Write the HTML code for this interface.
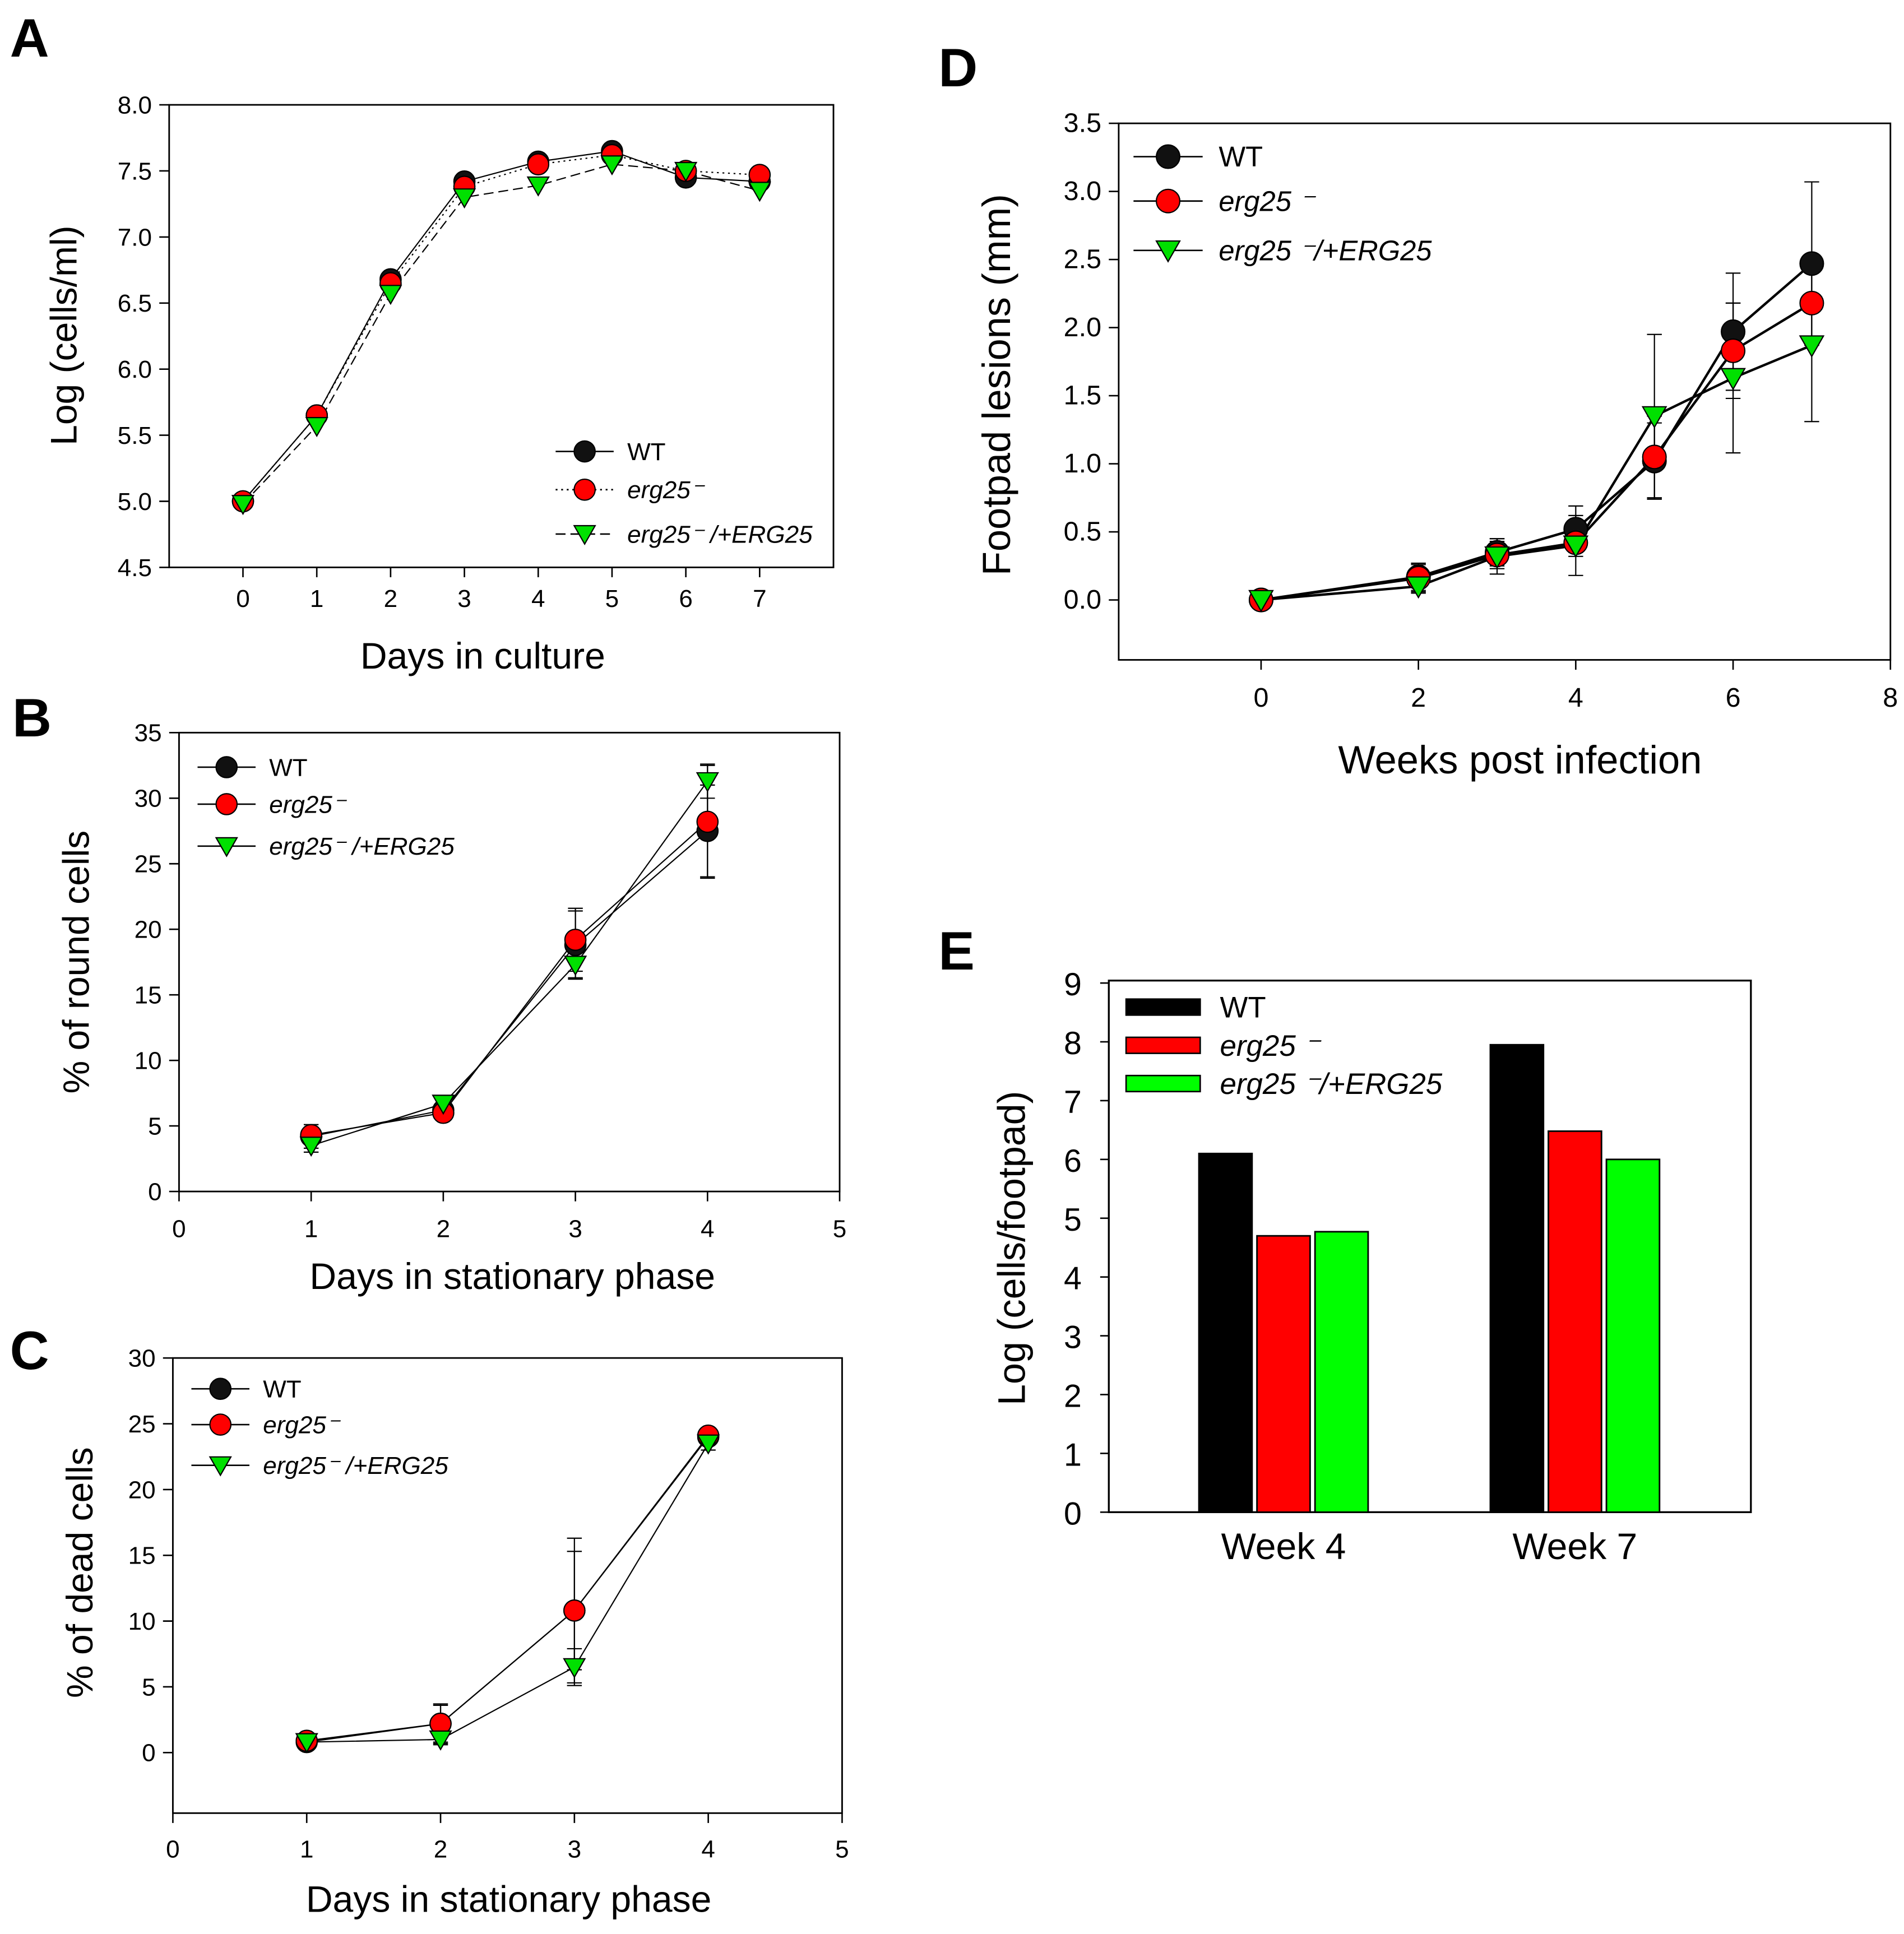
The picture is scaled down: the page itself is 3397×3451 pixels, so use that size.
<!DOCTYPE html>
<html><head><meta charset="utf-8">
<style>
html,body{margin:0;padding:0;background:#fff;}
svg{display:block;}
text{font-family:"Liberation Sans",sans-serif;fill:#000;}
</style></head>
<body>
<svg id="fig" width="3397" height="3451" viewBox="0 0 1542 1568" preserveAspectRatio="none" xmlns="http://www.w3.org/2000/svg">
<text x="8" y="46" font-size="44" font-weight="bold">A</text>
<text x="10" y="597" font-size="44" font-weight="bold">B</text>
<text x="8" y="1110" font-size="44" font-weight="bold">C</text>
<text x="760" y="70" font-size="44" font-weight="bold">D</text>
<text x="760" y="786" font-size="44" font-weight="bold">E</text>
</svg>
<script>
// ---- Panel A data ----
const daysA = [0,1,2,3,4,5,6,7];
const wtA = [5.0,5.65,6.68,7.42,7.57,7.65,7.45,7.42];
const ergA = [5.0,5.65,6.65,7.38,7.55,7.62,7.5,7.47];
const compA = [4.98,5.57,6.57,7.3,7.39,7.55,7.5,7.35];
const yTicksA = ["4.5","5.0","5.5","6.0","6.5","7.0","7.5","8.0"];
const xTicksA = ["0","1","2","3","4","5","6","7"];
// ---- Panel B data ----
const daysB = [1,2,3,4];
const wtB = [4.2,6.2,18.8,27.5];
const ergB = [4.3,6.0,19.2,28.2];
const compB = [3.5,6.7,17.3,31.3];
const errWtB = [0.9,0.5,2.6,3.5];
const errErgB = [0.6,0.4,2.4,4.3];
const errCompB = [0.5,0.4,1.0,1.3];
const yTicksB = ["0","5","10","15","20","25","30","35"];
const xTicksB = ["0","1","2","3","4","5"];
// ---- Panel C data ----
const daysC = [1,2,3,4];
const wtC = [0.8,2.2,10.8,24.0];
const ergC = [0.9,2.2,10.8,24.1];
const compC = [0.8,1.0,6.5,23.5];
const errWtC = [0.3,1.5,4.5,0.5];
const errErgC = [0.3,1.4,5.5,0.5];
const errCompC = [0.3,0.4,1.4,0.5];
const yTicksC = ["0","5","10","15","20","25","30"];
const xTicksC = ["0","1","2","3","4","5"];
// ---- Panel D data ----
const weeksD = [0,2,3,4,5,6,7];
const wtD = [0,0.17,0.35,0.52,1.02,1.97,2.47];
const ergD = [0,0.16,0.33,0.42,1.05,1.83,2.18];
const compD = [0,0.1,0.32,0.4,1.35,1.63,1.87];
const errWtD = [0,0.1,0.1,0.17,0.28,0.43,0.6];
const errErgD = [0,0.1,0.1,0.1,0.3,0.35,0.3];
const errCompD = [0,0.05,0.13,0.22,0.6,0.55,0.56];
const yTicksD = ["0.0","0.5","1.0","1.5","2.0","2.5","3.0","3.5"];
const xTicksD = ["0","2","4","6","8"];
// ---- Panel E data ----
const categoriesE = ["Week 4","Week 7"];
const wtE = [6.1,7.95];
const ergE = [4.7,6.48];
const compE = [4.77,6.0];
const yTicksE = ["0","1","2","3","4","5","6","7","8","9"];

const NS = "http://www.w3.org/2000/svg";
const svg = document.getElementById('fig');
function mk(tag, attrs, name, parent){
  const el = document.createElementNS(NS, tag);
  for (const k in attrs) el.setAttribute(k, attrs[k]);
  
  
  (parent||svg).appendChild(el);
  return el;
}
function txt(x,y,s,size,name,opts){
  opts = opts||{};
  const t = mk('text',{x:x,y:y,'font-size':size,'text-anchor':opts.anchor||'start'},name);
  if (opts.italic) t.setAttribute('font-style','italic');
  if (opts.rot) t.setAttribute('transform','rotate(-90 '+x+' '+y+')');
  t.textContent = s;
  return t;
}
function lin(x0,x1,p0,p1){return v=>p0+(v-x0)*(p1-p0)/(x1-x0);}

function tri(x,y,r,name){
  return mk('polygon',{points:(x-r)+','+(y-r*0.8)+' '+(x+r)+','+(y-r*0.8)+' '+x+','+(y+r*0.95),fill:'#00e000',stroke:'#000','stroke-width':1},name);
}
function circ(x,y,r,fill,name){
  return mk('circle',{cx:x,cy:y,r:r,fill:fill,stroke:'#000','stroke-width':1},name);
}

function linePanel(cfg){
  const X = lin(cfg.xr[0],cfg.xr[1],cfg.box[0],cfg.box[2]);
  const Y = lin(cfg.yr[0],cfg.yr[1],cfg.box[3],cfg.box[1]);
  const p = cfg.id;
  const b = cfg.box;
  mk('rect',{x:b[0],y:b[1],width:b[2]-b[0],height:b[3]-b[1],fill:'none',stroke:'#000','stroke-width':1.3},p+'-plot-frame');
  cfg.yTicks.forEach(t=>{
    const y = Y(parseFloat(t));
    mk('line',{x1:b[0]-8,x2:b[0],y1:y,y2:y,stroke:'#000','stroke-width':1.2},p+'-y-tick');
    txt(b[0]-14,y+7,t,cfg.tickSize,p+'-y-tick-label',{anchor:'end'});
  });
  cfg.xTicks.forEach(t=>{
    const x = X(parseFloat(t));
    mk('line',{x1:x,x2:x,y1:b[3],y2:b[3]+8,stroke:'#000','stroke-width':1.2},p+'-x-tick');
    txt(x,b[3]+cfg.xLabOff,t,cfg.tickSize,p+'-x-tick-label',{anchor:'middle'});
  });
  txt(cfg.yTitle[0],cfg.yTitle[1],cfg.yTitle[2],cfg.titleSize,p+'-y-axis-title',{anchor:'middle',rot:true});
  txt(cfg.xTitle[0],cfg.xTitle[1],cfg.xTitle[2],cfg.titleSize,p+'-x-axis-title',{anchor:'middle'});
  const series = cfg.series;
  series.forEach(s=>{
    if (!s.err) return;
    s.y.forEach((v,i)=>{
      const e = s.err[i]; if (!e) return;
      const x = X(cfg.x[i]);
      mk('line',{x1:x,x2:x,y1:Y(v-e),y2:Y(v+e),stroke:'#000','stroke-width':1},p+'-error-bar-'+s.key);
      mk('line',{x1:x-6,x2:x+6,y1:Y(v-e),y2:Y(v-e),stroke:'#000','stroke-width':1},p+'-error-cap-'+s.key);
      mk('line',{x1:x-6,x2:x+6,y1:Y(v+e),y2:Y(v+e),stroke:'#000','stroke-width':1},p+'-error-cap-'+s.key);
    });
  });
  series.forEach(s=>{
    const pts = s.y.map((v,i)=>X(cfg.x[i])+','+Y(v)).join(' ');
    const l = mk('polyline',{points:pts,fill:'none',stroke:'#000','stroke-width':cfg.lw},p+'-line-'+s.key);
    if (s.dash) l.setAttribute('stroke-dasharray',s.dash);
  });
  series.forEach(s=>{
    s.y.forEach((v,i)=>{
      const x = X(cfg.x[i]), y = Y(v);
      if (s.shape==='tri') tri(x,y,cfg.mr,p+'-marker-'+s.key);
      else circ(x,y,cfg.mr,s.color,p+'-marker-'+s.key);
    });
  });
  const L = cfg.legend;
  series.forEach((s,i)=>{
    const y = L.ys[i];
    const l = mk('line',{x1:L.x0,x2:L.x1,y1:y,y2:y,stroke:'#000','stroke-width':1.2},p+'-legend-line-'+s.key);
    if (s.dash) l.setAttribute('stroke-dasharray',s.dash);
    const mx = (L.x0+L.x1)/2;
    if (s.shape==='tri') tri(mx,y,cfg.mr,p+'-legend-marker-'+s.key);
    else circ(mx,y,cfg.mr,s.color,p+'-legend-marker-'+s.key);
    txt(L.tx,y+L.dy,s.label,L.size,p+'-legend-label-'+s.key,{italic:s.key!=='wt'});
  });
}

linePanel({id:'a',box:[137,85,675,460],xr:[-1,8],yr:[4.5,8.0],x:daysA,
  yTicks:yTicksA,xTicks:xTicksA,tickSize:20,xLabOff:32,titleSize:30,lw:1,mr:8.5,
  yTitle:[62,272,'Log (cells/ml)'],xTitle:[391,542,'Days in culture'],
  series:[
    {key:'wt',y:wtA,color:'#111',label:'WT'},
    {key:'erg25',y:ergA,color:'#f00',label:'erg25⁻',dash:'1.5,3'},
    {key:'comp',y:compA,shape:'tri',label:'erg25⁻ /+ERG25',dash:'8,4'}],
  legend:{x0:450,x1:497,tx:508,ys:[366,397,433],dy:7,size:20}});

linePanel({id:'b',box:[145,594,680,966],xr:[0,5],yr:[0,35],x:daysB,
  yTicks:yTicksB,xTicks:xTicksB,tickSize:20,xLabOff:37,titleSize:30,lw:1,mr:8.5,
  yTitle:[72,780,'% of round cells'],xTitle:[415,1045,'Days in stationary phase'],
  series:[
    {key:'wt',y:wtB,err:errWtB,color:'#111',label:'WT'},
    {key:'erg25',y:ergB,err:errErgB,color:'#f00',label:'erg25⁻'},
    {key:'comp',y:compB,err:errCompB,shape:'tri',label:'erg25⁻ /+ERG25'}],
  legend:{x0:160,x1:207,tx:218,ys:[622,652,686],dy:7,size:20}});

linePanel({id:'c',box:[140,1101,682,1470],xr:[0,5],yr:[-4.6,30],x:daysC,
  yTicks:yTicksC,xTicks:xTicksC,tickSize:20,xLabOff:36,titleSize:30,lw:1,mr:8.5,
  yTitle:[75,1275,'% of dead cells'],xTitle:[412,1550,'Days in stationary phase'],
  series:[
    {key:'wt',y:wtC,err:errWtC,color:'#111',label:'WT'},
    {key:'erg25',y:ergC,err:errErgC,color:'#f00',label:'erg25⁻'},
    {key:'comp',y:compC,err:errCompC,shape:'tri',label:'erg25⁻ /+ERG25'}],
  legend:{x0:155,x1:202,tx:213,ys:[1126,1155,1188],dy:7,size:20}});

linePanel({id:'d',box:[906,100,1531,535],xr:[-1.81,8],yr:[-0.44,3.5],x:weeksD,
  yTicks:yTicksD,xTicks:xTicksD,tickSize:22,xLabOff:38,titleSize:32,lw:2,mr:9.5,
  yTitle:[818,312,'Footpad lesions  (mm)'],xTitle:[1231,627,'Weeks post infection'],
  series:[
    {key:'wt',y:wtD,err:errWtD,color:'#111',label:'WT'},
    {key:'erg25',y:ergD,err:errErgD,color:'#f00',label:'erg25 ⁻'},
    {key:'comp',y:compD,err:errCompD,shape:'tri',label:'erg25 ⁻/+ERG25'}],
  legend:{x0:918,x1:974,tx:987,ys:[127,163,203],dy:8,size:23}});

(function(){
  const b = [898,795,1418,1226];
  const Y = lin(0,9,1226,797);
  const center0 = 1039.5, spacing = 236, bw = 43, gap = 4;
  mk('rect',{x:b[0],y:b[1],width:b[2]-b[0],height:b[3]-b[1],fill:'none',stroke:'#000','stroke-width':1.5},'e-plot-frame');
  yTicksE.forEach(t=>{
    const y = Y(parseFloat(t));
    mk('line',{x1:b[0]-7,x2:b[0],y1:y,y2:y,stroke:'#000','stroke-width':1.2},'e-y-tick');
    txt(b[0]-22,y+10,t,26,'e-y-tick-label',{anchor:'end'});
  });
  const series = [{key:'wt',v:wtE,c:'#000'},{key:'erg25',v:ergE,c:'#ff0000'},{key:'comp',v:compE,c:'#00ff00'}];
  categoriesE.forEach((cat,i)=>{
    const cx = center0 + i*spacing;
    series.forEach((s,j)=>{
      const x = cx + (j-1)*(bw+gap) - bw/2;
      mk('rect',{x:x,y:Y(s.v[i]),width:bw,height:Y(0)-Y(s.v[i]),fill:s.c,stroke:'#000','stroke-width':1.3},'e-bar-'+s.key+'-'+(i===0?'week4':'week7'));
    });
    txt(cx,1264,cat,30,'e-category-label',{anchor:'middle'});
  });
  txt(830,1012,'Log (cells/footpad)',31,'e-y-axis-title',{anchor:'middle',rot:true});
  const labels = ['WT','erg25 ⁻','erg25 ⁻/+ERG25'];
  const ys = [816,847,878];
  series.forEach((s,j)=>{
    mk('rect',{x:912,y:ys[j]-6,width:60,height:13,fill:s.c,stroke:'#000','stroke-width':1.2},'e-legend-swatch-'+s.key);
    txt(988,ys[j]+9,labels[j],24,'e-legend-label-'+s.key,{italic:j>0});
  });
})();
</script>
</body></html>
